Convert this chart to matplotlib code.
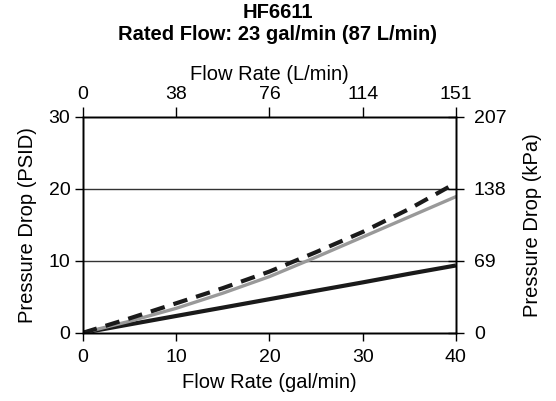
import matplotlib
matplotlib.use("Agg")
import matplotlib.pyplot as plt

plt.rcParams.update({
    "font.family": ["Liberation Sans", "DejaVu Sans"],
    "font.size": 14,
    "axes.linewidth": 1.0,
})

# data
flow_gpm = [0, 5, 10, 15, 20, 25, 30, 35, 40]
element_psid = [0, 1.6, 3.4, 5.5, 7.8, 10.5, 13.3, 16.1, 18.9]      # gray
assembly_psid = [0, 2.0, 4.1, 6.2, 8.5, 11.2, 14.0, 17.2, 20.8]     # dashed
housing_psid = [0, 1.17, 2.34, 3.5, 4.67, 5.84, 7.0, 8.2, 9.35]     # solid black

x_ticks = [0, 10, 20, 30, 40]
lpm_labels = ["0", "38", "76", "114", "151"]
y_ticks = [0, 10, 20, 30]
kpa_labels = ["0", "69", "138", "207"]

fig = plt.figure(figsize=(5.56, 4.01), dpi=100)
ax = fig.add_axes([0.149, 0.170, 0.671, 0.539])

ax.plot(flow_gpm, housing_psid, color="#1a1a1a", lw=3.0, solid_capstyle="butt")
ax.plot(flow_gpm, element_psid, color="#999999", lw=2.4)
ax.plot(flow_gpm, assembly_psid, color="#1a1a1a", lw=3.0, dashes=(3.5, 2.2))

ax.set_xlim(0, 40)
ax.set_ylim(0, 30)
ax.set_xticks(x_ticks)
ax.set_yticks(y_ticks)
for yv in (10, 20):
    ax.axhline(yv, color="#333333", lw=1.0, zorder=0)
ax.set_xlabel("Flow Rate (gal/min)", labelpad=5, fontsize=14.5)
ax.set_ylabel("Pressure Drop (PSID)", labelpad=8, fontsize=14.5)
ax.tick_params(axis="x", direction="out", length=6, width=1.0, pad=6)
ax.tick_params(axis="y", direction="out", length=6, width=1.0, pad=3)

top = ax.twiny()
top.set_xlim(0, 40)
top.set_xticks(x_ticks)
top.set_xticklabels(lpm_labels)
top.set_xlabel("Flow Rate (L/min)", labelpad=4, fontsize=14.5)
top.tick_params(direction="out", length=7, width=1.0, pad=3)

right = ax.twinx()
right.set_ylim(0, 30)
right.set_yticks(y_ticks)
right.set_yticklabels(kpa_labels)
right.set_ylabel("Pressure Drop (kPa)", labelpad=12, fontsize=14.5)
right.tick_params(direction="inout", length=12, width=1.0, pad=7)

fig.text(0.5, 0.993, "HF6611\nRated Flow: 23 gal/min (87 L/min)",
         ha="center", va="top", fontweight="bold", fontsize=14.5,
         linespacing=1.2)

fig.savefig("out.png", dpi=100)
